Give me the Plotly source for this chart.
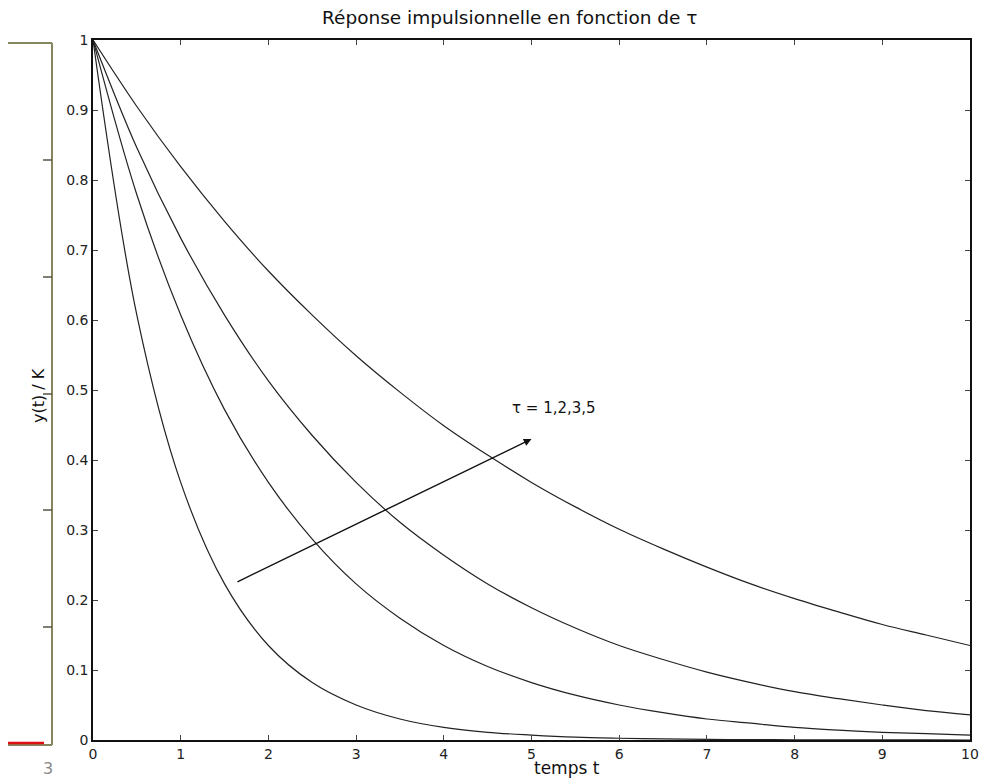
import plotly.graph_objects as go

# Values
t = [0, 0.5, 1, 1.5, 2, 2.5, 3, 3.5, 4, 4.5, 5, 5.5, 6, 6.5, 7, 7.5, 8, 8.5, 9, 9.5, 10]
y_tau1 = [1, .607, .368, .223, .135, .082, .050, .030, .018, .011, .007, .004, .0025, .0015,
          .0009, .0006, .0003, .0002, .0001, .0001, .0000]
y_tau2 = [1, .779, .607, .472, .368, .287, .223, .174, .135, .105, .082, .064, .050, .039,
          .030, .024, .018, .014, .011, .009, .007]
y_tau3 = [1, .846, .717, .607, .513, .435, .368, .311, .264, .223, .189, .160, .135, .115,
          .097, .082, .069, .059, .050, .042, .036]
y_tau5 = [1, .905, .819, .741, .670, .607, .549, .497, .449, .407, .368, .333, .301, .273,
          .247, .223, .202, .183, .165, .150, .135]
series = [y_tau1, y_tau2, y_tau3, y_tau5]

x_ticks = list(range(0, 11))
y_ticks = [0, 0.1, 0.2, 0.3, 0.4, 0.5, 0.6, 0.7, 0.8, 0.9, 1]
y_tick_text = ["0", "0.1", "0.2", "0.3", "0.4", "0.5", "0.6", "0.7", "0.8", "0.9", "1"]

arrow_start = (1.63, 0.225)
arrow_end = (5.0, 0.43)
label_pos = (4.75, 0.475)

FONT = "DejaVu Sans, Liberation Sans, sans-serif"

fig = go.Figure()
for ys in series:
    fig.add_trace(go.Scatter(x=t, y=ys, mode="lines",
                             line=dict(color="#222222", width=1.2, shape="spline"),
                             showlegend=False, hoverinfo="skip"))

fig.add_annotation(x=arrow_end[0], y=arrow_end[1], ax=arrow_start[0], ay=arrow_start[1],
                   xref="x", yref="y", axref="x", ayref="y", text="", showarrow=True,
                   arrowhead=2, arrowsize=1.1, arrowwidth=1.4, arrowcolor="#111111")
fig.add_annotation(x=label_pos[0], y=label_pos[1], xref="x", yref="y", text="τ = 1,2,3,5",
                   showarrow=False, xanchor="left", yanchor="middle",
                   font=dict(family=FONT, size=15, color="#111111"))

# partial neighbouring panel at the left edge (page pixel positions -> paper coords)
W = 877.0
H = 700.0
def px(x):
    return (x - 93) / W
def py(y):
    return (740 - y) / H

olive = "#85855f"
fig.add_shape(type="line", xref="paper", yref="paper", x0=px(0), x1=px(52), y0=py(43), y1=py(43),
              line=dict(color=olive, width=2))
fig.add_shape(type="line", xref="paper", yref="paper", x0=px(52), x1=px(52), y0=py(43), y1=py(745),
              line=dict(color=olive, width=2))
fig.add_shape(type="line", xref="paper", yref="paper", x0=px(0), x1=px(52), y0=py(745), y1=py(745),
              line=dict(color=olive, width=2))
for yy in [160, 277, 394, 510, 627]:
    fig.add_shape(type="line", xref="paper", yref="paper", x0=px(43), x1=px(52), y0=py(yy), y1=py(yy),
                  line=dict(color="#555544", width=1.5))
fig.add_shape(type="line", xref="paper", yref="paper", x0=px(0), x1=px(44), y0=py(743), y1=py(743),
              line=dict(color="#dd1111", width=2.5))
fig.add_annotation(xref="paper", yref="paper", x=px(48), y=py(768), text="3", showarrow=False,
                   xanchor="center", yanchor="middle",
                   font=dict(family=FONT, size=16, color="#888888"))

# axis titles placed as annotations to match reference positions
fig.add_annotation(xref="paper", yref="paper", x=px(567), y=py(768), text="temps t", showarrow=False,
                   xanchor="center", yanchor="middle",
                   font=dict(family=FONT, size=17, color="#111111"))
fig.add_annotation(xref="paper", yref="paper", x=px(38), y=py(395), text="y(t) / K", showarrow=False,
                   textangle=-90, xanchor="center", yanchor="middle",
                   font=dict(family=FONT, size=16, color="#111111"))

axis_common = dict(showgrid=False, zeroline=False, showline=True, linecolor="#111111", linewidth=1.5,
                   mirror="allticks", ticks="inside", ticklen=5, tickcolor="#444444",
                   tickfont=dict(family=FONT, size=14, color="#222222"))

fig.update_xaxes(range=[0, 10], tickvals=x_ticks, ticktext=[str(v) for v in x_ticks], **axis_common)
fig.update_yaxes(range=[0, 1], tickvals=y_ticks, ticktext=y_tick_text, **axis_common)

# page has an 8px body margin; figure sized so plot area lands at x 93..970, y 40..740
fig.update_layout(
    width=980, height=774,
    margin=dict(l=85, r=18, t=32, b=42, autoexpand=False),
    paper_bgcolor="white", plot_bgcolor="white",
    title=dict(text="Réponse impulsionnelle en fonction de τ", x=0.512, xanchor="center", y=0.988,
               yanchor="middle", font=dict(family=FONT, size=18.5, color="#111111")),
)

fig.write_html("out.html")
